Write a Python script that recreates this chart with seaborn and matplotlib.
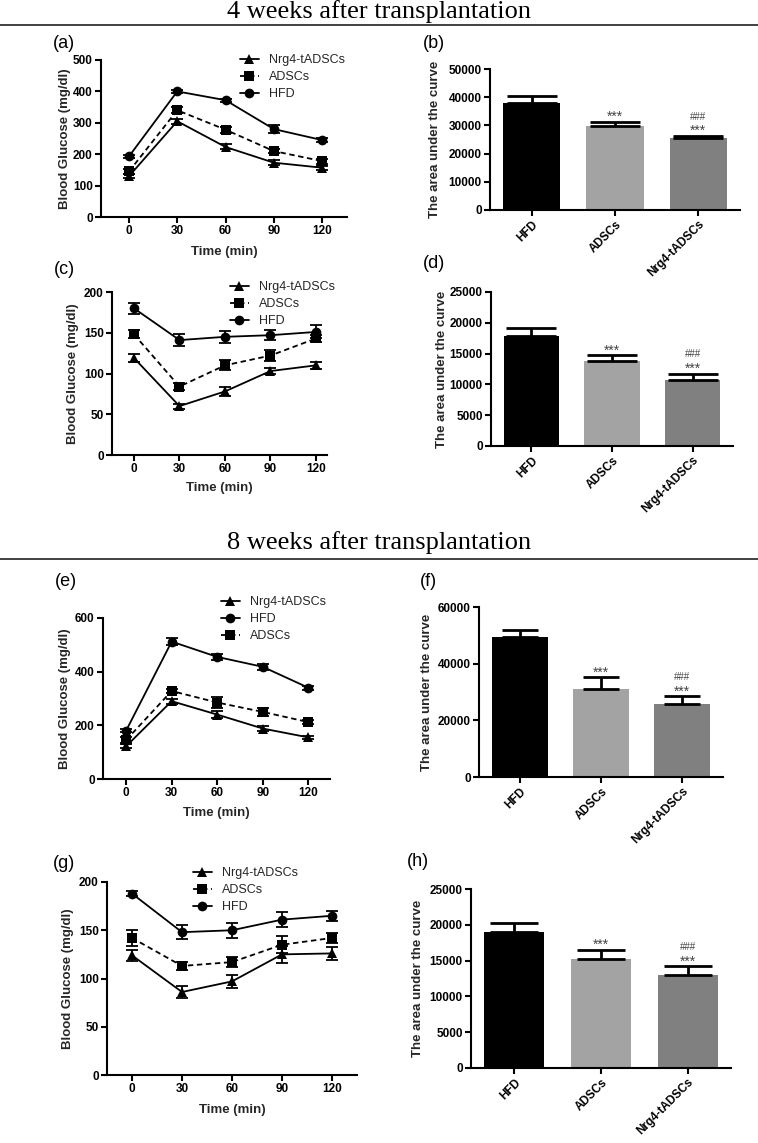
import numpy as np
import pandas as pd
import matplotlib
matplotlib.use("Agg")
import matplotlib.pyplot as plt
import seaborn as sns
from matplotlib.lines import Line2D

# style: Prism-like bold sans text, ticks only
sns.set_theme(style="ticks")
plt.rcParams["font.family"] = ["Liberation Sans", "DejaVu Sans"]
plt.rcParams["font.weight"] = "bold"
plt.rcParams["axes.labelweight"] = "bold"

W, H = 758, 1143

# ------------------------------
# Data
# ------------------------------
times = [0, 30, 60, 90, 120]
groups = ["HFD", "ADSCs", "Nrg4-tADSCs"]

# (a) 4 weeks, glucose tolerance
a_hfd = [193, 400, 372, 280, 245]
a_hfd_err = [5, 5, 5, 14, 6]
a_adscs = [145, 340, 278, 210, 178]
a_adscs_err = [8, 10, 10, 6, 8]
a_nrg4 = [130, 305, 223, 173, 157]
a_nrg4_err = [6, 8, 8, 7, 6]

# (b) 4 weeks, AUC of (a)
b_auc = [38000, 29700, 25500]
b_err = [2500, 1500, 700]

# (c) 4 weeks, insulin tolerance
c_hfd = [180, 141, 145, 147, 151]
c_hfd_err = [7, 7, 7, 6, 8]
c_adscs = [148, 84, 110, 122, 143]
c_adscs_err = [5, 4, 6, 7, 4]
c_nrg4 = [119, 60, 78, 103, 110]
c_nrg4_err = [5, 3, 5, 4, 4]

# (d) 4 weeks, AUC of (c)
d_auc = [17900, 13800, 10700]
d_err = [1200, 900, 1000]

# (e) 8 weeks, glucose tolerance
e_hfd = [180, 512, 455, 418, 340]
e_hfd_err = [5, 12, 10, 10, 8]
e_adscs = [145, 328, 285, 250, 212]
e_adscs_err = [10, 8, 22, 15, 8]
e_nrg4 = [122, 290, 240, 188, 155]
e_nrg4_err = [8, 10, 12, 8, 5]

# (f) 8 weeks, AUC of (e)
f_auc = [49300, 31200, 25700]
f_err = [2700, 4000, 2800]

# (g) 8 weeks, insulin tolerance
g_hfd = [188, 148, 150, 161, 165]
g_hfd_err = [3, 7, 8, 8, 5]
g_adscs = [142, 113, 117, 135, 142]
g_adscs_err = [8, 4, 5, 9, 5]
g_nrg4 = [124, 86, 97, 125, 126]
g_nrg4_err = [6, 6, 7, 9, 7]

# (h) 8 weeks, AUC of (g)
h_auc = [19000, 15200, 13000]
h_err = [1200, 1300, 1200]

star_marks = ["", "***", "***"]
hash_marks = ["", "", "###"]

bar_colors = {"HFD": "#000000", "ADSCs": "#a3a3a3", "Nrg4-tADSCs": "#808080"}
markers = {"HFD": "o", "ADSCs": "s", "Nrg4-tADSCs": "^"}
dashes = {"HFD": "", "ADSCs": (3, 2), "Nrg4-tADSCs": ""}

fig = plt.figure(figsize=(W / 100, H / 100), dpi=100, facecolor="white")


def px_axes(left, top, right, bottom):
    return fig.add_axes([left / W, 1 - bottom / H, (right - left) / W, (bottom - top) / H])


def style_axes(ax):
    sns.despine(ax=ax)
    for s in ["left", "bottom"]:
        ax.spines[s].set_linewidth(1.5)
        ax.spines[s].set_color("black")
    ax.tick_params(direction="out", length=4, width=1.5, colors="black", labelsize=8.5, pad=2)
    ax.set_facecolor("none")
    ax.grid(False)


def ylabel_at(ax, box, text, xc, size):
    left, top, right, bottom = box
    ax.set_ylabel(text, fontsize=size, va="center", ha="center")
    ax.yaxis.set_label_coords((xc - left) / (right - left), 0.5)


def line_panel(box, xlim, ymax, ystep, series, order, leg_xy, ylab_x, xlab_y):
    ax = px_axes(*box)
    rows = []
    for name in order:
        mean, err = series[name]
        for t, v in zip(times, mean):
            rows.append({"time": t, "glucose": v, "group": name})
    df = pd.DataFrame(rows)
    sns.lineplot(data=df, x="time", y="glucose", hue="group", style="group",
                 hue_order=order, style_order=order,
                 palette={g: "black" for g in order}, markers=markers, dashes=dashes,
                 markersize=7, linewidth=1.3, markeredgewidth=0, errorbar=None, ax=ax)
    for name in order:
        mean, err = series[name]
        ax.errorbar(times, mean, yerr=err, fmt="none", ecolor="black",
                    elinewidth=1.3, capsize=4, capthick=1.3, zorder=3)
    old = ax.get_legend()
    handles = old.legend_handles
    labels = [t.get_text() for t in old.get_texts()]
    ax.legend(handles, labels, loc="upper left", bbox_to_anchor=(leg_xy[0] / W, 1 - leg_xy[1] / H),
              bbox_transform=fig.transFigure, frameon=False,
              prop={"size": 9, "weight": "normal"}, handlelength=1.5,
              handletextpad=0.8, labelspacing=0.4, borderaxespad=0, borderpad=0)
    ax.set_xlim(*xlim)
    ax.set_ylim(0, ymax)
    ax.set_xticks(times)
    ax.set_yticks(np.arange(0, ymax + 1, ystep))
    style_axes(ax)
    ylabel_at(ax, box, "Blood Glucose (mg/dl)", ylab_x, 9.5)
    left, top, right, bottom = box
    ax.set_xlabel("Time (min)", fontsize=9.5, va="center")
    ax.xaxis.set_label_coords(0.5, -(xlab_y - bottom) / (bottom - top))
    return ax


def bar_panel(box, vals, errs, ymax, ystep, ylab_x, capsize):
    ax = px_axes(*box)
    df = pd.DataFrame({"group": groups, "auc": vals})
    sns.barplot(data=df, x="group", y="auc", hue="group", palette=bar_colors,
                width=0.69, saturation=1, linewidth=0, legend=False, ax=ax)
    ax.errorbar(range(len(groups)), vals, yerr=[[0] * len(errs), errs], fmt="none",
                ecolor="black", elinewidth=2, capsize=capsize, capthick=2, zorder=3)
    for i, (v, e) in enumerate(zip(vals, errs)):
        if star_marks[i]:
            ax.annotate(star_marks[i], (i, v + e), xytext=(0, -1.5), textcoords="offset points",
                        ha="center", va="bottom", fontsize=10, weight="normal", color="#444444")
        if hash_marks[i]:
            ax.annotate(hash_marks[i], (i, v + e), xytext=(0, 10.5), textcoords="offset points",
                        ha="center", va="bottom", fontsize=7, weight="normal", color="#444444")
    ax.set_xlim(-0.5, 2.5)
    ax.set_ylim(0, ymax)
    ax.set_yticks(np.arange(0, ymax + 1, ystep))
    ax.set_xlabel("")
    style_axes(ax)
    ax.set_xticks(range(len(groups)))
    ax.set_xticklabels(groups, rotation=45, ha="right", va="top", rotation_mode="anchor")
    ylabel_at(ax, box, "The area under the curve", ylab_x, 9.5)
    return ax


# ------------------------------
# Section titles and rules
# ------------------------------
for txt, yc, yline in [("4 weeks after transplantation", 12, 25),
                       ("8 weeks after transplantation", 543, 559)]:
    fig.text(0.5, 1 - yc / H, txt, ha="center", va="center", fontsize=19,
             family=["Liberation Serif", "DejaVu Serif"], weight="normal", color="black")
    fig.add_artist(Line2D([0, 1], [1 - yline / H, 1 - yline / H], color="#333333", lw=1.3))

# ------------------------------
# Panels
# ------------------------------
line_panel((101, 60, 347, 217), (-17.4, 135.5), 500, 100,
           {"HFD": (a_hfd, a_hfd_err), "ADSCs": (a_adscs, a_adscs_err), "Nrg4-tADSCs": (a_nrg4, a_nrg4_err)},
           ["Nrg4-tADSCs", "ADSCs", "HFD"], (240, 54), 65, 252)
bar_panel((490, 69, 740, 210), b_auc, b_err, 50000, 10000, 435, 18)

line_panel((112, 292, 327, 455), (-14.5, 127.3), 200, 50,
           {"HFD": (c_hfd, c_hfd_err), "ADSCs": (c_adscs, c_adscs_err), "Nrg4-tADSCs": (c_nrg4, c_nrg4_err)},
           ["Nrg4-tADSCs", "ADSCs", "HFD"], (230, 281), 73, 488)
bar_panel((491, 292, 733, 446), d_auc, d_err, 25000, 5000, 442, 18)

line_panel((103, 618, 330, 779), (-15.2, 134.2), 600, 200,
           {"HFD": (e_hfd, e_hfd_err), "ADSCs": (e_adscs, e_adscs_err), "Nrg4-tADSCs": (e_nrg4, e_nrg4_err)},
           ["Nrg4-tADSCs", "HFD", "ADSCs"], (221, 596), 65, 813)
bar_panel((479, 607, 723, 777), f_auc, f_err, 60000, 20000, 427, 13)

line_panel((107, 882, 357, 1075), (-15, 135), 200, 50,
           {"HFD": (g_hfd, g_hfd_err), "ADSCs": (g_adscs, g_adscs_err), "Nrg4-tADSCs": (g_nrg4, g_nrg4_err)},
           ["Nrg4-tADSCs", "ADSCs", "HFD"], (193, 867), 68, 1110)
bar_panel((471, 889, 731, 1068), h_auc, h_err, 25000, 5000, 418, 17)

# panel letters
for letter, x, y in [("(a)", 53, 43), ("(b)", 423, 43), ("(c)", 54, 270), ("(d)", 423, 264),
                     ("(e)", 55, 581), ("(f)", 420, 582), ("(g)", 53, 863), ("(h)", 407, 861)]:
    fig.text(x / W, 1 - y / H, letter, ha="left", va="center", fontsize=13,
             weight="normal", color="black")

fig.savefig("out.png", dpi=100, facecolor="white")
